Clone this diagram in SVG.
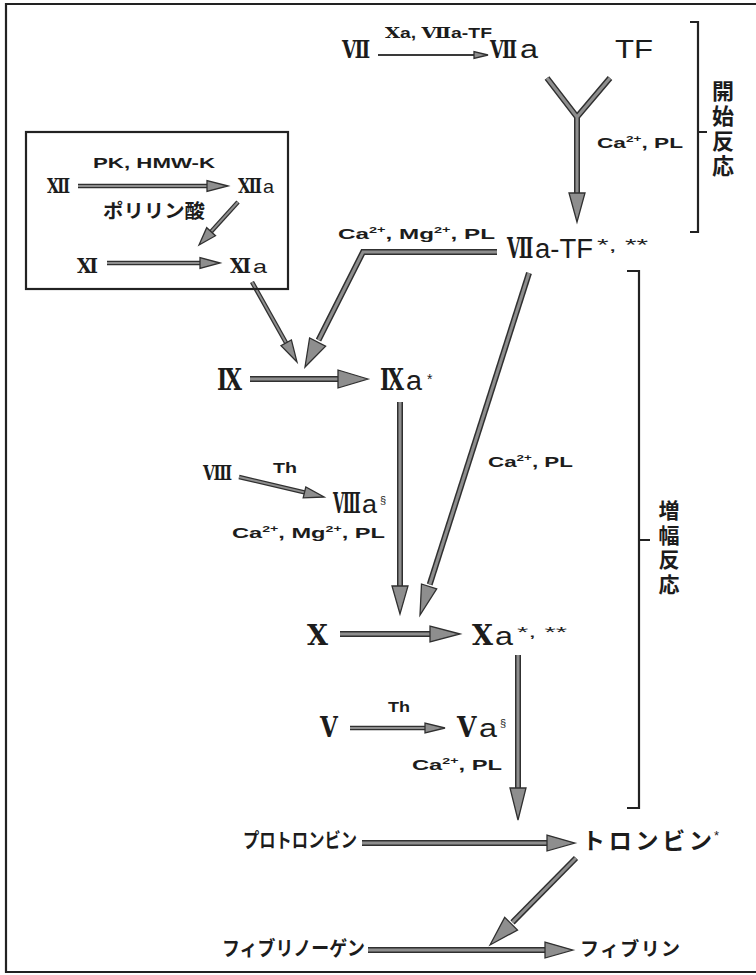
<svg xmlns="http://www.w3.org/2000/svg" width="756" height="975" viewBox="0 0 756 975">
<defs>
<style>
text{fill:#1c1c1c}
.rn{font-family:"DejaVu Serif","Liberation Serif",serif;font-weight:bold}
.sa{font-family:"Liberation Sans",Arial,sans-serif}
.lb{font-family:"Liberation Sans",Arial,sans-serif;font-weight:bold;font-size:15px}
.jp{font-family:"Noto Sans CJK JP",sans-serif;font-weight:bold}
.vt{font-family:"Noto Sans CJK JP",sans-serif;font-weight:bold;writing-mode:vertical-rl;text-orientation:upright}
.sup{font-size:9px}
.frame{fill:none;stroke:#222;stroke-width:2.2}
.o6{fill:none;stroke:#303030;stroke-width:6;stroke-linejoin:miter}
.i6{fill:none;stroke:#8e8e8e;stroke-width:3;stroke-linejoin:miter}
.o4{fill:none;stroke:#303030;stroke-width:4.5}
.i4{fill:none;stroke:#8e8e8e;stroke-width:2}
.o2{fill:none;stroke:#3a3a3a;stroke-width:2.2}
.hd{fill:#8e8e8e;stroke:#303030;stroke-width:1.3;stroke-linejoin:miter}
</style>
</defs>
<rect width="756" height="975" fill="#fff"/>
<path class="frame" d="M760 4H6V972H760" stroke-width="2.5"/>

<g id="connectors">
<line class="o2" x1="378" y1="55" x2="476" y2="55"/>
<polygon class="hd" points="488,55 474,51.5 474,58.5" fill="#666"/>
<path class="o6" d="M547 78L577 117L610 78M577 117V195"/>
<path class="i6" d="M547 78L577 117L610 78M577 117V195"/>
<polygon class="hd" points="577,222 569,193 585,193"/>
<path class="o4" d="M78 186H209"/><path class="i4" d="M78 186H209"/>
<polygon class="hd" points="228,186 207,180.5 207,191.5"/>
<path class="o4" d="M238 202L210.4 232.4"/><path class="i4" d="M238 202L210.4 232.4"/>
<polygon class="hd" points="199,245 206.7,227.7 215.5,235.7"/>
<path class="o4" d="M107 263H202"/><path class="i4" d="M107 263H202"/>
<polygon class="hd" points="220,263 200,257.5 200,268.5"/>
<path class="o4" d="M252 282L287 344.5"/><path class="i4" d="M252 282L287 344.5"/>
<polygon class="hd" points="297,362 281,345.7 291.4,339.9"/>
<path class="o6" d="M497 252H363L318.5 340.2"/><path class="i6" d="M497 252H363L318.5 340.2"/>
<polygon class="hd" points="305,367 309.6,338 325.6,346.1"/>
<path class="o6" d="M250 379H340"/><path class="i6" d="M250 379H340"/>
<polygon class="hd" points="368,379 338,370 338,388"/>
<path class="o6" d="M400 402V588"/><path class="i6" d="M400 402V588"/>
<polygon class="hd" points="400,614 392,586 408,586"/>
<path class="o6" d="M529 273L429.7 584.5"/><path class="i6" d="M529 273L429.7 584.5"/>
<polygon class="hd" points="420,615 421.5,584 436.7,588.8"/>
<path class="o4" d="M239 477L305.5 492.6"/><path class="i4" d="M239 477L305.5 492.6"/>
<polygon class="hd" points="324,497 303.2,497.8 305.8,487"/>
<path class="o6" d="M340 634H432"/><path class="i6" d="M340 634H432"/>
<polygon class="hd" points="460,634 430,626 430,642"/>
<path class="o6" d="M518 655V790"/><path class="i6" d="M518 655V790"/>
<polygon class="hd" points="518,820 510,788 526,788"/>
<path class="o4" d="M350 728H427"/><path class="i4" d="M350 728H427"/>
<polygon class="hd" points="445,728 425,723 425,733"/>
<path class="o6" d="M362 843H549"/><path class="i6" d="M362 843H549"/>
<polygon class="hd" points="575,843 547,835 547,851"/>
<path class="o6" d="M576 858L512.5 922.3"/><path class="i6" d="M576 858L512.5 922.3"/>
<polygon class="hd" points="490,945 504.7,917.4 517.5,930"/>
<path class="o6" d="M368 950H547"/><path class="i6" d="M368 950H547"/>
<polygon class="hd" points="573,950 545,942 545,958"/>
</g>

<g id="bracket-initiation">
<path class="frame" d="M690 22H698V232H690M698 132H707" stroke-width="2"/>
<text class="vt" x="723" y="80" font-size="22" letter-spacing="3">開始反応</text>
</g>
<g id="bracket-amplification">
<path class="frame" d="M627 271H639V808H627M639 540H650" stroke-width="2"/>
<text class="vt" x="669" y="500" font-size="21" letter-spacing="3.5">増幅反応</text>
</g>

<g id="contact-box">
<rect class="frame" x="26" y="132" width="262" height="157" stroke-width="2"/>
</g>

<g id="n-VII"><text class="rn" font-size="24" transform="translate(342 58) scale(0.77 1)">Ⅶ</text></g>
<g id="l-VII"><text class="lb" x="385" y="38" font-size="14" textLength="107" lengthAdjust="spacingAndGlyphs"><tspan class="rn">X</tspan>a, <tspan class="rn">Ⅶ</tspan>a-TF</text></g>
<g id="n-VIIa"><text class="rn" font-size="24" transform="translate(490 58) scale(0.74 1)">Ⅶ</text><text class="sa" x="520" y="58" font-size="25" textLength="18" lengthAdjust="spacingAndGlyphs">a</text></g>
<g id="n-TF"><text class="sa" x="615" y="58" font-size="25" textLength="38" lengthAdjust="spacingAndGlyphs">TF</text></g>
<g id="l-TF"><text class="lb" x="597" y="148" textLength="86" lengthAdjust="spacingAndGlyphs">Ca<tspan class="sup" dy="-6">2+</tspan><tspan dy="6">,  PL</tspan></text></g>

<g id="n-XII"><text class="rn" font-size="20" transform="translate(47 193) scale(0.77 1)">Ⅻ</text></g>
<g id="l-XII"><text class="lb" x="93" y="168" textLength="122" lengthAdjust="spacingAndGlyphs">PK,  HMW-K</text></g>
<g id="l-polyP"><text class="jp" x="103" y="218" font-size="19" textLength="102" lengthAdjust="spacingAndGlyphs">ポリリン酸</text></g>
<g id="n-XIIa"><text class="rn" font-size="20" transform="translate(238 193) scale(0.8 1)">Ⅻ</text><text class="sa" x="263" y="193" font-size="19" textLength="11" lengthAdjust="spacingAndGlyphs">a</text></g>
<g id="n-XI"><text class="rn" font-size="20" transform="translate(77 273) scale(0.93 1)">Ⅺ</text></g>
<g id="n-XIa"><text class="rn" font-size="20" transform="translate(230 273) scale(0.93 1)">Ⅺ</text><text class="sa" x="253" y="273" font-size="19" textLength="14" lengthAdjust="spacingAndGlyphs">a</text></g>

<g id="l-VIIaTF"><text class="lb" x="338" y="239" textLength="157" lengthAdjust="spacingAndGlyphs">Ca<tspan class="sup" dy="-6">2+</tspan><tspan dy="6">,  Mg</tspan><tspan class="sup" dy="-6">2+</tspan><tspan dy="6">,  PL</tspan></text></g>
<g id="n-VIIaTF"><text class="rn" font-size="27" transform="translate(507 258) scale(0.64 1)">Ⅶ</text><text class="sa" x="535" y="258" font-size="27" textLength="58" lengthAdjust="spacingAndGlyphs">a-TF</text><text class="sa" x="597" y="251" font-size="16" textLength="51" lengthAdjust="spacingAndGlyphs">*, **</text></g>

<g id="n-IX"><text class="rn" font-size="30" transform="translate(217 390) scale(0.74 1)">Ⅸ</text></g>
<g id="n-IXa"><text class="rn" font-size="30" transform="translate(380 390) scale(0.71 1)">Ⅸ</text><text class="sa" x="406" y="390" font-size="27" textLength="16" lengthAdjust="spacingAndGlyphs">a</text><text class="sa" x="427" y="384" font-size="14">*</text></g>

<g id="n-VIII"><text class="rn" font-size="21" transform="translate(203 480) scale(0.73 1)">Ⅷ</text></g>
<g id="l-VIII"><text class="lb" x="273" y="473" textLength="24" lengthAdjust="spacingAndGlyphs">Th</text></g>
<g id="n-VIIIa"><text class="rn" font-size="27" transform="translate(333 513) scale(0.54 1)">Ⅷ</text><text class="sa" x="362" y="513" font-size="26" textLength="15" lengthAdjust="spacingAndGlyphs">a</text><text class="sa" x="380" y="504" font-size="11">§</text></g>
<g id="l-VIIIa"><text class="lb" x="232" y="538" textLength="153" lengthAdjust="spacingAndGlyphs">Ca<tspan class="sup" dy="-6">2+</tspan><tspan dy="6">,  Mg</tspan><tspan class="sup" dy="-6">2+</tspan><tspan dy="6">,  PL</tspan></text></g>
<g id="l-mid"><text class="lb" x="488" y="467" textLength="85" lengthAdjust="spacingAndGlyphs">Ca<tspan class="sup" dy="-6">2+</tspan><tspan dy="6">,  PL</tspan></text></g>

<g id="n-X"><text class="rn" x="307" y="645" font-size="27">X</text></g>
<g id="n-Xa"><text class="rn" x="472" y="645" font-size="27">X</text><text class="sa" x="495" y="645" font-size="26" textLength="18" lengthAdjust="spacingAndGlyphs">a</text><text class="sa" x="517" y="637" font-size="15" textLength="50" lengthAdjust="spacingAndGlyphs">*, **</text></g>

<g id="l-V"><text class="lb" x="388" y="712" textLength="22" lengthAdjust="spacingAndGlyphs">Th</text></g>
<g id="n-V"><text class="rn" font-size="27" transform="translate(320 737) scale(0.85 1)">V</text></g>
<g id="n-Va"><text class="rn" font-size="27" transform="translate(457 737) scale(0.93 1)">V</text><text class="sa" x="479" y="737" font-size="26" textLength="18" lengthAdjust="spacingAndGlyphs">a</text><text class="sa" x="500" y="727" font-size="11">§</text></g>
<g id="l-Va"><text class="lb" x="412" y="770" textLength="90" lengthAdjust="spacingAndGlyphs">Ca<tspan class="sup" dy="-6">2+</tspan><tspan dy="6">,  PL</tspan></text></g>

<g id="n-prothrombin"><text class="jp" x="243" y="848" font-size="20" textLength="114" lengthAdjust="spacingAndGlyphs">プロトロンビン</text></g>
<g id="n-thrombin"><text class="jp" x="582" y="849" font-size="23" textLength="130" lengthAdjust="spacing">トロンビン</text><text class="sa" x="714" y="840" font-size="13">*</text></g>
<g id="n-fibrinogen"><text class="jp" x="222" y="956" font-size="20" textLength="143" lengthAdjust="spacingAndGlyphs">フィブリノーゲン</text></g>
<g id="n-fibrin"><text class="jp" x="580" y="956" font-size="19" textLength="100" lengthAdjust="spacing">フィブリン</text></g>
</svg>
